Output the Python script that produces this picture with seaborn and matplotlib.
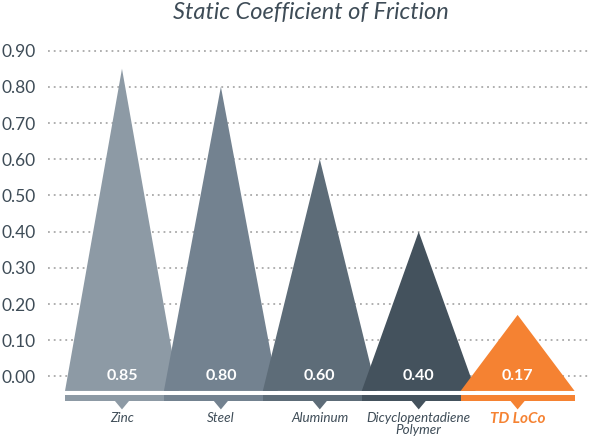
import numpy as np
import pandas as pd
import matplotlib.pyplot as plt
import seaborn as sns

materials = ['Zinc', 'Steel', 'Aluminum', 'Dicyclopentadiene\nPolymer', 'TD LoCo']
friction = [0.85, 0.80, 0.60, 0.40, 0.17]
value_labels = ['0.85', '0.80', '0.60', '0.40', '0.17']
colors = ['#8d9aa5', '#738290', '#5d6c78', '#44525d', '#f58232']
yticks = [0.0, 0.1, 0.2, 0.3, 0.4, 0.5, 0.6, 0.7, 0.8, 0.9]

df = pd.DataFrame({'material': materials, 'friction': friction})
df['pos'] = np.arange(len(df))

sns.set_style('white')
plt.rcParams['font.family'] = ['Lato', 'DejaVu Sans']
text_col = '#3e4c57'

fig = plt.figure(figsize=(5.91, 4.38), dpi=100)
ax = fig.add_axes([48/591, 0, 543/591, 394.6/438])

half = 0.576
base = -0.04

# triangles, later ones on top
for i, row in df.iterrows():
    ax.fill([row.pos - half, row.pos, row.pos + half],
            [base, row.friction, base], color=colors[i], lw=0, zorder=2 + i)
    ax.text(row.pos, 0.0, value_labels[i], color='white', fontsize=11.5,
            fontweight='bold', ha='center', va='center', zorder=10)

# strip under the triangles
lefts = df.pos - half
widths = [1.0] * (len(df) - 1) + [2 * half]
ax.bar(lefts, 0.017, width=widths, bottom=-0.069, align='edge',
       color=colors, lw=0, zorder=3)

# little pointers under the strip (flat down-pointing triangle)
pointer = [(-1, 0.6), (1, 0.6), (0, -0.6), (-1, 0.6)]
sns.scatterplot(data=df, x='pos', y=[-0.079] * len(df), hue='material',
                palette=colors, marker=pointer, s=110, linewidth=0,
                legend=False, ax=ax, zorder=2)

# category labels
for i, row in df.iterrows():
    if row.material == 'TD LoCo':
        ax.text(row.pos, -0.099, row.material, color=colors[i], fontsize=11,
                fontweight='bold', fontstyle='italic', ha='center', va='top')
    else:
        ax.text(row.pos, -0.099, row.material, color=text_col, fontsize=9.7,
                fontstyle='italic', ha='center', va='top', linespacing=0.95)

ax.set_xlim(-0.748, 4.742)
ax.set_ylim(-0.17, 0.92)
ax.set_yticks(yticks)
ax.set_yticklabels([f'{t:.2f}' for t in yticks], fontsize=12.5, color=text_col)
ax.set_xticks([])
ax.tick_params(axis='y', length=0, pad=9)
ax.grid(axis='y', color='#a9a9a9', linestyle=(0, (1, 2.2)), linewidth=1.3, zorder=0)
ax.set_axisbelow(True)
ax.set_xlabel('')
ax.set_ylabel('')
for s in ax.spines.values():
    s.set_visible(False)

fig.text(311/591, 1 - 12/438, 'Static Coefficient of Friction', ha='center',
         va='center', fontsize=17, fontstyle='italic', color=text_col)

fig.savefig('out.png', dpi=100)
